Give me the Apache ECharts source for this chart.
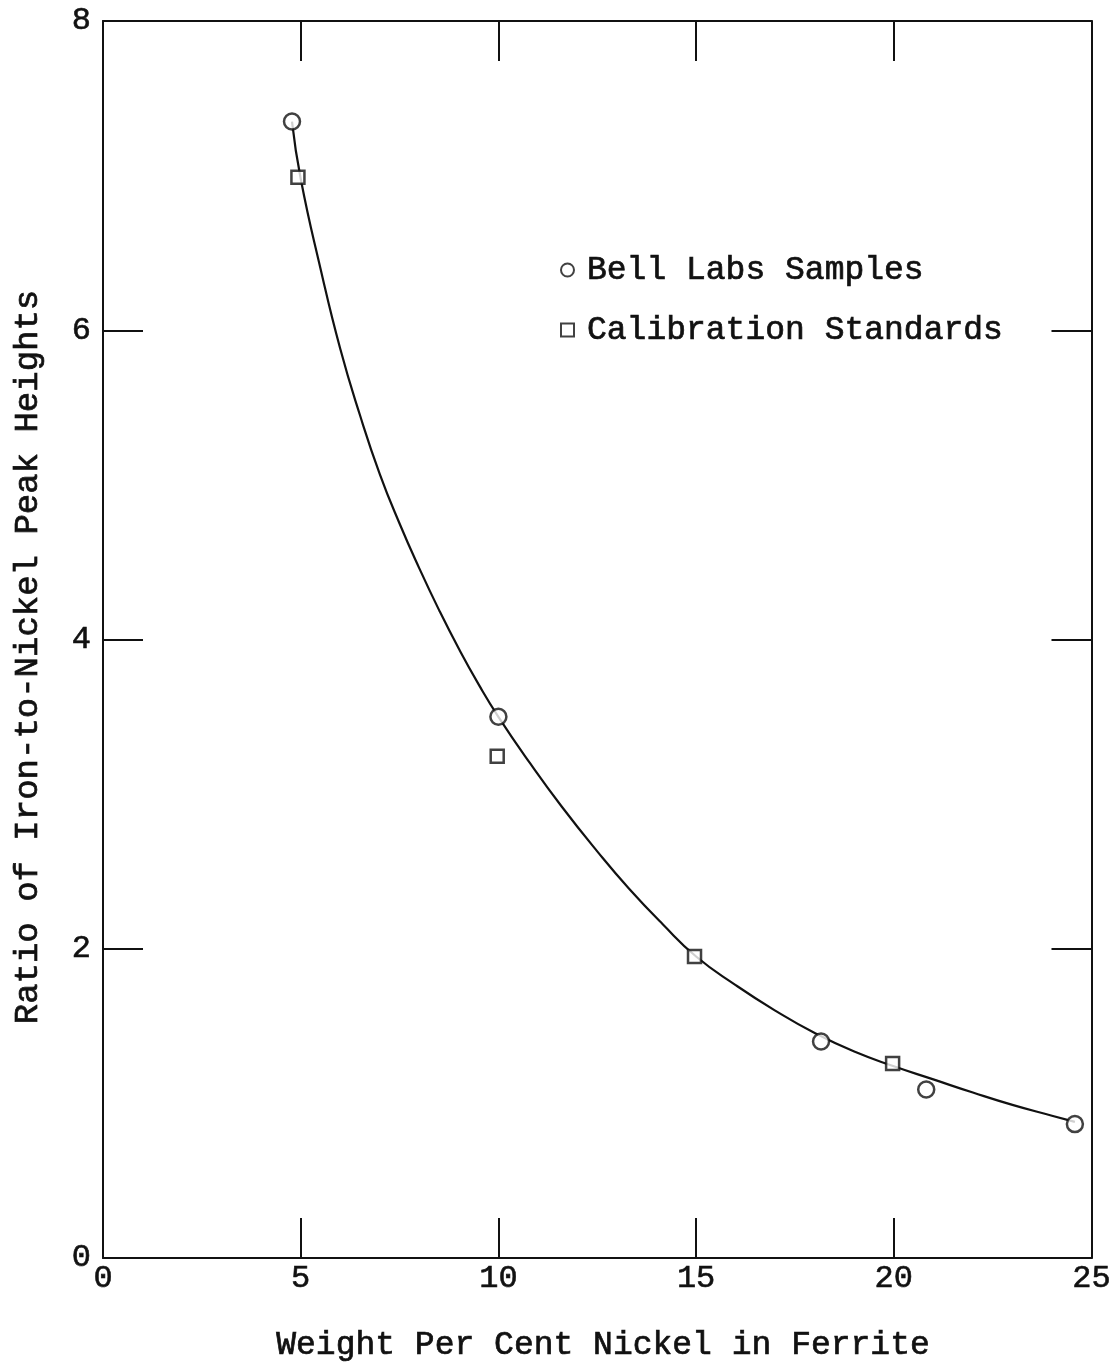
<!DOCTYPE html>
<html>
<head>
<meta charset="utf-8">
<script src="https://cdn.jsdelivr.net/npm/echarts@6/dist/echarts.min.js"></script>
<style>
html,body{margin:0;padding:0;background:#fff;}
#chart{width:1114px;height:1366px;}
</style>
</head>
<body>
<div id="chart"></div>
<script>
// ---- data ----
const seriesNames = ['Bell Labs Samples', 'Calibration Standards'];
const bellX = [4.78, 10.0, 18.16, 20.82, 24.58];
const bellY = [7.35, 3.50, 1.40, 1.09, 0.866];
const calX = [4.93, 9.97, 14.96, 19.97];
const calY = [6.99, 3.245, 1.95, 1.258];
const curveX = [4.78, 5.0, 5.5, 6.0, 6.5, 7.0, 7.5, 8.0, 8.5, 9.0, 9.5, 10.0, 10.8, 11.6, 12.5, 13.3, 14.15, 15.0, 16.0, 17.0, 18.0, 19.0, 20.0, 21.0, 22.0, 23.0, 24.0, 24.58];
const curveY = [7.35, 6.98, 6.40, 5.88, 5.45, 5.07, 4.75, 4.46, 4.19, 3.94, 3.71, 3.50, 3.20, 2.92, 2.63, 2.39, 2.16, 1.95, 1.765, 1.60, 1.455, 1.335, 1.24, 1.155, 1.07, 0.99, 0.92, 0.88];
const xTitle = 'Weight Per Cent Nickel in Ferrite';
const yTitle = 'Ratio of Iron-to-Nickel Peak Heights';

const zip = (a, b) => a.map((v, i) => [v, b[i]]);
const INK = '#111';
const FONT = '"Liberation Mono", "Courier New", monospace';

const chart = echarts.init(document.getElementById('chart'), null, {renderer: 'canvas'});

const axisCommon = {
  axisLine: {show: true, onZero: false, lineStyle: {color: INK, width: 2}},
  axisTick: {show: true, inside: true, length: 40, lineStyle: {color: INK, width: 2}},
  splitLine: {show: false},
  minorTick: {show: false}
};
const tickLabel = {fontFamily: FONT, fontSize: 32, color: INK, textBorderColor: INK, textBorderWidth: 0.6};

chart.setOption({
  backgroundColor: '#fff',
  animation: false,
  grid: {left: 103, top: 21, right: 15, bottom: 108, containLabel: false},
  legend: {
    orient: 'vertical',
    left: 555,
    top: 245,
    itemGap: 20,
    itemWidth: 13,
    itemHeight: 13,
    data: [
      {name: seriesNames[0], icon: 'circle'},
      {name: seriesNames[1], icon: 'rect'}
    ],
    textStyle: {fontFamily: FONT, fontSize: 33, color: INK, lineHeight: 40, padding: [0, 0, 0, 8],
                textBorderColor: INK, textBorderWidth: 0.7}
  },
  xAxis: [
    Object.assign({
      type: 'value', position: 'bottom', min: 0, max: 25, interval: 5,
      axisLabel: Object.assign({show: true, margin: 5}, tickLabel)
    }, axisCommon),
    Object.assign({
      type: 'value', position: 'top', min: 0, max: 25, interval: 5,
      axisLabel: {show: false}
    }, axisCommon)
  ],
  yAxis: [
    Object.assign({
      type: 'value', position: 'left', min: 0, max: 8, interval: 2,
      axisLabel: Object.assign({show: true, margin: 12}, tickLabel)
    }, axisCommon),
    Object.assign({
      type: 'value', position: 'right', min: 0, max: 8, interval: 2,
      axisLabel: {show: false}
    }, axisCommon)
  ],
  graphic: [
    {
      type: 'text', x: 603, y: 1345,
      style: {text: xTitle, font: '33px ' + FONT, fill: INK, align: 'center', verticalAlign: 'middle',
              stroke: INK, lineWidth: 0.7}
    },
    {
      type: 'text', x: 28, y: 657, rotation: Math.PI / 2,
      style: {text: yTitle, font: '34px ' + FONT, fill: INK, align: 'center', verticalAlign: 'middle',
              stroke: INK, lineWidth: 0.7}
    }
  ],
  series: [
    {
      name: 'curve',
      type: 'line',
      data: zip(curveX, curveY),
      smooth: 0.5,
      showSymbol: false,
      symbol: 'none',
      lineStyle: {color: INK, width: 2.2},
      z: 2
    },
    {
      name: seriesNames[0],
      type: 'scatter',
      data: zip(bellX, bellY),
      symbol: 'circle',
      symbolSize: 16,
      itemStyle: {color: '#fff', borderColor: INK, borderWidth: 2.5},
      z: 3
    },
    {
      name: seriesNames[1],
      type: 'scatter',
      data: zip(calX, calY),
      symbol: 'rect',
      symbolSize: 13,
      itemStyle: {color: '#fff', borderColor: INK, borderWidth: 2.5},
      z: 3
    }
  ]
});
</script>
</body>
</html>
